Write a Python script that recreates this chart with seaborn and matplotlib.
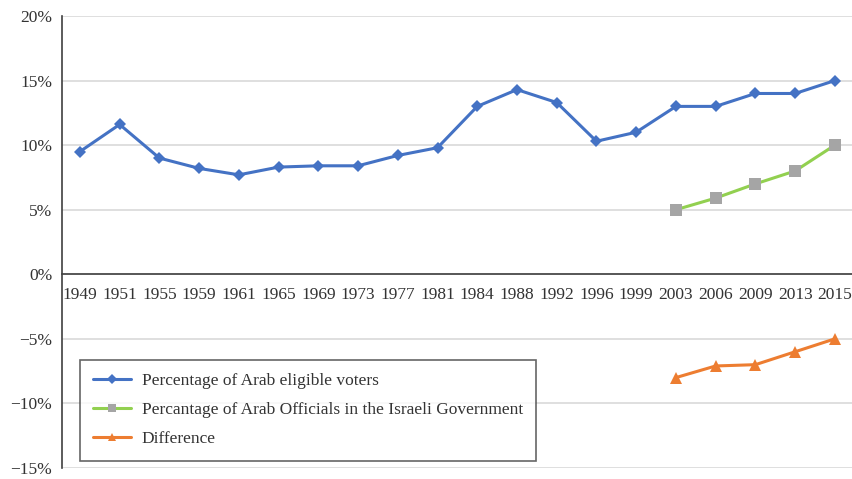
import matplotlib
matplotlib.use("Agg")
import matplotlib.pyplot as plt
from matplotlib.ticker import FixedLocator, FuncFormatter
import seaborn as sns
import pandas as pd

years = ["1949", "1951", "1955", "1959", "1961", "1965", "1969", "1973", "1977", "1981",
         "1984", "1988", "1992", "1996", "1999", "2003", "2006", "2009", "2013", "2015"]
eligible_voters = [9.5, 11.6, 9.0, 8.2, 7.7, 8.3, 8.4, 8.4, 9.2, 9.8,
                   13.0, 14.3, 13.3, 10.3, 11.0, 13.0, 13.0, 14.0, 14.0, 15.0]
official_years = ["2003", "2006", "2009", "2013", "2015"]
officials = [5.0, 5.9, 7.0, 8.0, 10.0]
difference = [-8.0, -7.1, -7.0, -6.0, -5.0]

labels = ["Percentage of Arab eligible voters",
          "Percantage of Arab Officials in the Israeli Government",
          "Difference"]

sns.set_theme(style="white")
plt.rcParams["font.family"] = ["Liberation Serif", "DejaVu Serif"]

pos = {y: i for i, y in enumerate(years)}
df_v = pd.DataFrame({"x": [pos[y] for y in years], "v": eligible_voters})
df_o = pd.DataFrame({"x": [pos[y] for y in official_years], "v": officials})
df_d = pd.DataFrame({"x": [pos[y] for y in official_years], "v": difference})

fig = plt.figure(figsize=(8.53, 4.79), dpi=100)
ax = fig.add_axes([0.0727, 0.023, 0.927, 0.9436])

ax.set_ylim(-15, 20)
ax.set_xlim(-0.45, len(years) - 0.55)
for yv in range(-15, 25, 5):
    ax.axhline(yv, color="#d9d9d9", lw=1.2, zorder=0)

sns.lineplot(data=df_v, x="x", y="v", ax=ax, color="#4472C4", lw=2.2,
             marker="D", markersize=6, markeredgewidth=0, label=labels[0])
sns.lineplot(data=df_o, x="x", y="v", ax=ax, color="#92D050", lw=2.2,
             marker="s", markersize=8, markerfacecolor="#A5A5A5",
             markeredgewidth=0, label=labels[1])
sns.lineplot(data=df_d, x="x", y="v", ax=ax, color="#ED7D31", lw=2.2,
             marker="^", markersize=8, markeredgewidth=0, label=labels[2])

# category axis drawn along the zero line
for s in ["top", "right"]:
    ax.spines[s].set_visible(False)
ax.spines["bottom"].set_position(("data", 0))
ax.spines["bottom"].set_color("#404040")
ax.spines["bottom"].set_linewidth(1.2)
ax.spines["left"].set_color("#404040")
ax.spines["left"].set_linewidth(1.2)

ax.xaxis.set_major_locator(FixedLocator(range(len(years))))
ax.set_xticklabels(years)
ax.xaxis.set_minor_locator(FixedLocator([i + 0.5 for i in range(len(years) - 1)]))
ax.tick_params(axis="x", which="major", length=0, pad=9, labelsize=12.5, colors="#333333")
ax.tick_params(axis="x", which="minor", length=5, width=1.2, direction="out", color="#404040")
ax.tick_params(axis="y", length=5, width=1.2, direction="out", labelsize=12.5,
               colors="#333333", pad=2)
ax.yaxis.set_major_locator(FixedLocator(range(-15, 25, 5)))
ax.yaxis.set_major_formatter(FuncFormatter(lambda v, _: f"{int(v)}%".replace("-", "\u2212")))
ax.set_xlabel("")
ax.set_ylabel("")

leg = ax.legend(loc="upper left", bbox_to_anchor=(0.0228, 0.239), fontsize=12.5,
                frameon=True, fancybox=False, edgecolor="#404040",
                handlelength=2.2, handletextpad=0.6, labelspacing=0.75,
                borderpad=0.75, borderaxespad=0, markerscale=0.8)
leg.get_frame().set_linewidth(1.2)
for t in leg.get_texts():
    t.set_color("#333333")

fig.savefig("out.png", dpi=100)
